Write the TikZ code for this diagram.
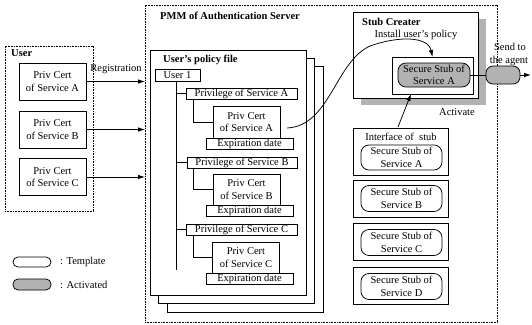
\documentclass[tikz,border=0pt]{standalone}
\usepackage{fontspec}
\setmainfont{Liberation Serif}
\usetikzlibrary{arrows.meta,calc}
\begin{document}
\begin{tikzpicture}[x=1pt,y=-1pt, font=\fontsize{10.5}{12.5}\selectfont,
 box/.style={draw, line width=0.75pt, inner sep=0pt, outer sep=0pt, align=center, fill=white},
 dotbox/.style={draw, line width=0.9pt, dash pattern=on 0.8pt off 0.8pt, inner sep=0pt, outer sep=0pt},
 pill/.style={draw, line width=0.75pt, rounded corners=8pt, inner sep=0pt, outer sep=0pt, align=center, fill=white},
 act/.style={pill, fill=black!30},
 lab/.style={font=\fontsize{10.5}{12.5}\selectfont\bfseries, anchor=west, inner sep=0pt},
 txt/.style={inner sep=0pt, align=center},
 arr/.style={-{Latex[length=7pt,width=4.5pt]}, line width=0.75pt},
 ln/.style={line width=0.75pt}]
\useasboundingbox (0,0) rectangle (532,324);

% outer containers
\node[dotbox, minimum width=352pt, minimum height=317pt] (pmm) at (321,163.5) {};
\node[lab] (pmmlab) at (160,16) {PMM of Authentication Server};
\node[dotbox, minimum width=88pt, minimum height=165pt] (user) at (49,128.5) {};
\node[lab] (userlab) at (11,53) {User};

% user's certificates
\node[box, minimum width=67pt, minimum height=37pt] (uca) at (52.5,81.5) {Priv Cert\\of Service A};
\node[box, minimum width=67pt, minimum height=37pt] (ucb) at (52.5,129.5) {Priv Cert\\of Service B};
\node[box, minimum width=67pt, minimum height=37pt] (ucc) at (52.5,177) {Priv Cert\\of Service C};
\draw[arr] (uca.east) -- (uca.east -| pmm.west);
\draw[arr] (ucb.east) -- (ucb.east -| pmm.west);
\draw[arr] (ucc.east) -- (ucc.east -| pmm.west);
\node[txt] (reg) at (116,69) {Registration};

% policy file pages
\node[box, minimum width=156pt, minimum height=246pt] (pg3) at (245,189) {};
\node[box, minimum width=156pt, minimum height=245pt] (pg2) at (236,180.5) {};
\node[box, minimum width=156pt, minimum height=245pt] (pg1) at (228,172.5) {};
\node[lab] (pollab) at (163,60) {User's policy file};
\node[box, minimum width=45pt, minimum height=12pt] (u1) at (177.5,75) {User 1};
\coordinate (trunkend) at (176,270);
\draw[ln] (u1.south -| trunkend) -- (trunkend);

% service A
\node[box, minimum width=111pt, minimum height=11pt] (pva) at (241.5,93.5) {Privilege of Service A};
\node[box, minimum width=67pt, minimum height=32pt] (ca) at (246.5,122) {Priv Cert\\of Service A};
\node[box, minimum width=87pt, minimum height=11pt] (ea) at (249.5,143.5) {Expiration date};
% service B
\node[box, minimum width=110pt, minimum height=11pt] (pvb) at (242,162.5) {Privilege of Service B};
\node[box, minimum width=67pt, minimum height=31pt] (cb) at (246.5,189.5) {Priv Cert\\of Service B};
\node[box, minimum width=87pt, minimum height=11pt] (eb) at (249.5,210.5) {Expiration date};
% service C
\node[box, minimum width=111pt, minimum height=11pt] (pvc) at (241.5,229.5) {Privilege of Service C};
\node[box, minimum width=67pt, minimum height=31pt] (cc) at (246,257.5) {Priv Cert\\of Service C};
\node[box, minimum width=87pt, minimum height=11pt] (ec) at (249.5,279) {Expiration date};

\draw[ln] (pva.west -| trunkend) -- (pva.west);
\draw[ln] (pvb.west -| trunkend) -- (pvb.west);
\draw[ln] (pvc.west -| trunkend) -- (pvc.west);
\draw[ln] ($(pva.south west)+(7,0)$) |- (ca.west);
\draw[ln] ($(pvb.south west)+(6,0)$) |- (cb.west);
\draw[ln] ($(pvc.south west)+(7,0)$) |- (cc.west);

% stub creater
\node[fill=black!30, inner sep=0pt, minimum width=125pt, minimum height=86pt] (shadow) at (423.5,62) {};
\node[box, minimum width=125pt, minimum height=86pt] (sc) at (415.5,55) {};
\node[lab] (sclab) at (362,22) {Stub Creater};
\node[txt] (install) at (416,35) {Install user's policy};
\node[box, minimum width=81pt, minimum height=37pt] (ib) at (432.5,75.5) {};
\node[act, minimum width=72pt, minimum height=24pt] (sa) at (434,75) {Secure Stub of\\Service A};
\node[txt] (activate) at (457,112) {Activate};

% interface of stub
\node[box, minimum width=95pt, minimum height=47pt] (iface) at (400.5,151.5) {};
\node[txt] (ifacelab) at (401,137) {Interface of\ \ stub};
\node[pill, minimum width=81pt, minimum height=25pt] (ta) at (401.5,157.5) {Secure Stub of\\Service A};
\node[box, minimum width=95pt, minimum height=37pt] (bb) at (400.5,198.5) {};
\node[pill, minimum width=81pt, minimum height=26pt] (tb) at (401.5,198.5) {Secure Stub of\\Service B};
\node[box, minimum width=95pt, minimum height=37pt] (bc) at (400.5,242) {};
\node[pill, minimum width=81pt, minimum height=26pt] (tc) at (401.5,242.5) {Secure Stub of\\Service C};
\node[box, minimum width=95pt, minimum height=37pt] (bd) at (400.5,285.5) {};
\node[pill, minimum width=81pt, minimum height=26pt] (td) at (401.5,286.5) {Secure Stub of\\Service D};

% connectors of stub creater
\draw[arr] ($(ca.east)+(7,6)$) .. controls (330,126) and (335,62) .. (370,46)
  .. controls (398,36) and (428,36) .. (ib.north);
\coordinate (actstart) at (398,127);
\draw[arr] (actstart) -- ($(ib.south west)+(19,0)$);

% send to the agent
\node[act, rounded corners=7pt, minimum width=34pt, minimum height=18pt] (sendpill) at (503,75) {};
\coordinate (agent) at (531,75);
\draw[ln] (sa.east) -- (sendpill.west);
\draw[arr] (sendpill.east) -- (agent);
\node[txt] (send1) at (510,47) {Send to};
\node[txt] (send2) at (509,61) {the agent};

% legend
\node[pill, rounded corners=5pt, minimum width=38pt, minimum height=10pt] (legt) at (32,262) {};
\node[txt, anchor=west] (legtl) at (60,262) {: Template};
\node[act, rounded corners=5pt, minimum width=38pt, minimum height=11pt] (lega) at (32,284.5) {};
\node[txt, anchor=west] (legal) at (60,285) {: Activated};
\end{tikzpicture}
\end{document}
